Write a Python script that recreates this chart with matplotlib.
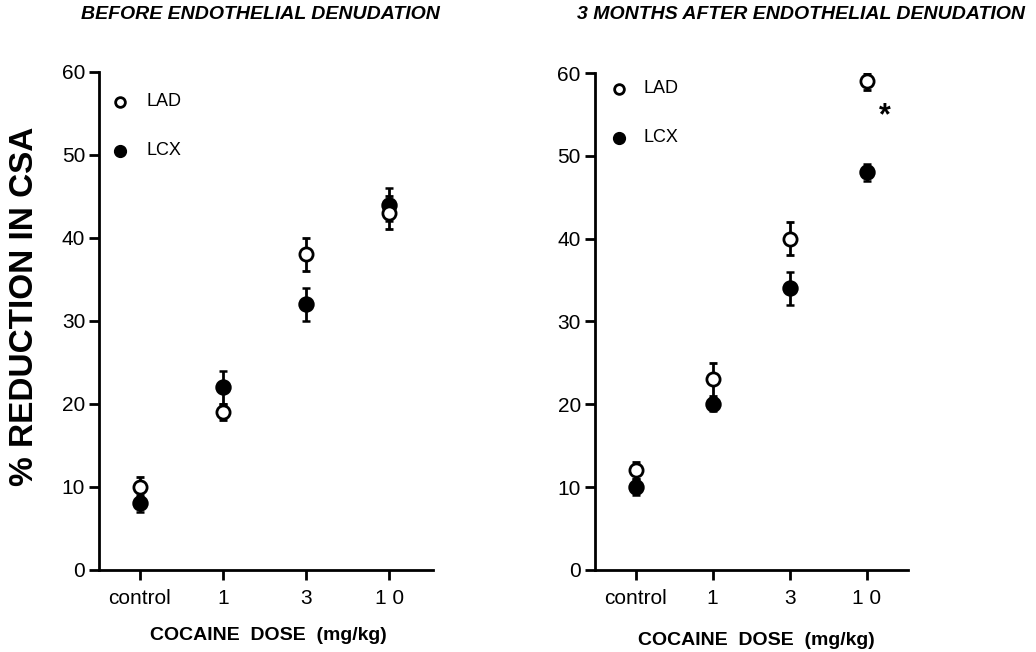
import matplotlib
matplotlib.use("Agg")
import matplotlib.pyplot as plt
import numpy as np

plt.rcParams['font.family'] = ['Liberation Sans', 'DejaVu Sans']

doses = ["control", "1", "3", "1 0"]

# before endothelial denudation
before_lad = [10, 19, 38, 43]
before_lad_err = [1.2, 1.0, 2.0, 2.0]
before_lcx = [8, 22, 32, 44]
before_lcx_err = [1.0, 2.0, 2.0, 2.0]

# 3 months after denudation
after_lad = [12, 23, 40, 59]
after_lad_err = [1.0, 2.0, 2.0, 1.0]
after_lcx = [10, 20, 34, 48]
after_lcx_err = [1.0, 0.8, 2.0, 1.0]

titles = ["BEFORE ENDOTHELIAL DENUDATION", "3 MONTHS AFTER ENDOTHELIAL DENUDATION"]


def draw_panel(ax, lad, lad_err, lcx, lcx_err, xlim, legend_pos):
    x = np.arange(len(doses))
    ax.errorbar(x, lcx, yerr=lcx_err, fmt='o', color='black', ms=10,
                mfc='black', mec='black', mew=1.8, elinewidth=2, capsize=3,
                capthick=2, zorder=3)
    ax.errorbar(x, lad, yerr=lad_err, fmt='o', color='black', ms=9.5,
                mfc='white', mec='black', mew=2, elinewidth=2, capsize=3,
                capthick=2, zorder=4)

    # hand-drawn style key
    lx, ly_lad, ly_lcx = legend_pos
    ax.plot(lx, ly_lad, 'o', ms=7, mfc='white', mec='black', mew=2, clip_on=False)
    ax.plot(lx, ly_lcx, 'o', ms=8.5, mfc='black', mec='black', clip_on=False)
    ax.text(lx + 0.32, ly_lad, "LAD", fontsize=13, va='center', ha='left')
    ax.text(lx + 0.32, ly_lcx, "LCX", fontsize=13, va='center', ha='left')

    ax.set_xlim(*xlim)
    ax.set_ylim(0, 60)
    ax.set_yticks([0, 10, 20, 30, 40, 50, 60])
    ax.set_xticks(x)
    ax.set_xticklabels(doses)
    for s in ['top', 'right']:
        ax.spines[s].set_visible(False)
    for s in ['left', 'bottom']:
        ax.spines[s].set_linewidth(2)
    ax.tick_params(axis='both', direction='out', length=7, width=2,
                   labelsize=15, pad=3)
    ax.tick_params(axis='x', pad=7)


fig = plt.figure(figsize=(10.36, 6.52), dpi=100)
ax1 = fig.add_axes([0.0956, 0.126, 0.322, 0.764])
ax2 = fig.add_axes([0.574, 0.126, 0.302, 0.762])

draw_panel(ax1, before_lad, before_lad_err, before_lcx, before_lcx_err,
           (-0.49, 3.52), (-0.24, 56.4, 50.5))
draw_panel(ax2, after_lad, after_lad_err, after_lcx, after_lcx_err,
           (-0.53, 3.53), (-0.21, 58.1, 52.2))

ax2.text(3.24, 54.8, "*", fontsize=22, fontweight='bold', ha='center', va='center')

fig.text(0.251, 0.977, titles[0], fontsize=14, fontweight='bold',
         fontstyle='italic', ha='center', va='center')
fig.text(0.773, 0.977, titles[1], fontsize=14, fontweight='bold',
         fontstyle='italic', ha='center', va='center')

fig.text(0.259, 0.025, "COCAINE  DOSE  (mg/kg)", fontsize=14,
         fontweight='bold', ha='center', va='center')
fig.text(0.730, 0.018, "COCAINE  DOSE  (mg/kg)", fontsize=14,
         fontweight='bold', ha='center', va='center')

fig.text(0.024, 0.53, "% REDUCTION IN CSA", fontsize=24, fontweight='bold',
         rotation=90, ha='center', va='center')

fig.savefig("out.png", dpi=100)
